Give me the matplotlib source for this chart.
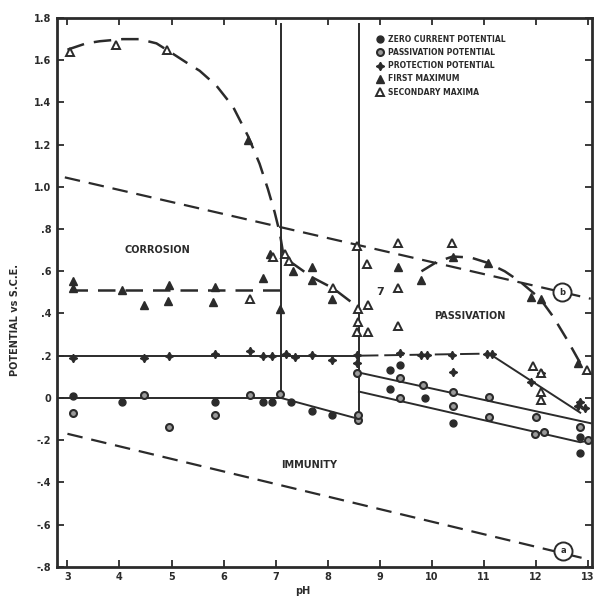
import matplotlib
matplotlib.use("Agg")
import matplotlib.pyplot as plt

# --- data (pH, potential V vs S.C.E.) ---
zero_ph = [3.1, 4.04, 5.83, 6.75, 6.92, 7.3, 7.7, 8.08, 9.2, 9.38, 9.2, 9.86, 10.4, 12.85, 12.85]
zero_e = [0.01, -0.02, -0.02, -0.02, -0.02, -0.02, -0.06, -0.08, 0.13, 0.155, 0.04, 0.0, -0.12, -0.26, -0.185]

pass_ph = [3.1, 4.48, 4.96, 5.83, 6.5, 7.08, 8.58, 8.58, 9.38, 9.83, 10.4, 11.1, 12.0,
           9.38, 10.4, 11.1, 11.98, 12.15, 12.85, 13.0, 8.56]
pass_e = [-0.07, 0.015, -0.14, -0.08, 0.015, 0.02, -0.105, -0.08, 0.095, 0.06, 0.03, 0.005, -0.09,
          0.0, -0.04, -0.09, -0.17, -0.16, -0.14, -0.2, 0.12]

prot_ph = [3.1, 4.48, 4.96, 5.83, 6.5, 6.75, 6.92, 7.2, 7.37, 7.7, 8.08, 8.56, 8.56, 9.38,
           9.8, 9.9, 10.38, 11.05, 11.15, 10.4, 11.9, 12.8, 12.95, 12.85, 12.1]
prot_e = [0.19, 0.19, 0.2, 0.21, 0.22, 0.2, 0.2, 0.21, 0.195, 0.205, 0.18, 0.205, 0.165, 0.215,
          0.205, 0.205, 0.205, 0.21, 0.21, 0.125, 0.075, -0.04, -0.05, -0.02, 0.12]

first_ph = [3.1, 3.1, 4.04, 4.48, 4.96, 4.93, 5.83, 5.79, 6.75, 6.9, 7.08, 7.33, 7.7, 7.7,
            8.08, 9.35, 9.8, 10.4, 11.07, 11.9, 12.1, 12.8, 6.46]
first_e = [0.555, 0.52, 0.51, 0.44, 0.535, 0.46, 0.525, 0.455, 0.57, 0.68, 0.42, 0.60, 0.62, 0.56,
           0.47, 0.62, 0.56, 0.67, 0.64, 0.48, 0.47, 0.165, 1.22]

second_ph = [3.05, 3.94, 4.92, 6.5, 6.95, 7.17, 7.25, 8.1, 8.56, 8.75, 9.35, 10.38, 9.35, 8.77,
             8.58, 8.58, 8.56, 8.77, 9.35, 12.98, 11.95, 12.1, 12.1, 12.1]
second_e = [1.64, 1.67, 1.65, 0.47, 0.67, 0.68, 0.65, 0.52, 0.72, 0.635, 0.735, 0.735, 0.52, 0.44,
            0.42, 0.36, 0.31, 0.31, 0.34, 0.13, 0.15, 0.12, 0.03, -0.01]

# hand-drawn dashed curves
upper_curve_ph = [3.0, 3.36, 3.62, 4.06, 4.38, 4.71, 5.03, 5.28, 5.54, 5.86, 6.18, 6.47, 6.69,
                  6.85, 6.98, 7.08, 7.14, 7.31, 7.71, 8.1, 8.58]
upper_curve_e = [1.65, 1.68, 1.69, 1.70, 1.70, 1.68, 1.63, 1.59, 1.55, 1.48, 1.38, 1.24, 1.11,
                 0.99, 0.88, 0.78, 0.69, 0.64, 0.57, 0.52, 0.43]
right_curve_ph = [9.8, 10.1, 10.4, 10.75, 11.07, 11.4, 11.7, 12.08, 12.33, 12.6, 12.85, 13.0]
right_curve_e = [0.60, 0.645, 0.67, 0.665, 0.64, 0.60, 0.55, 0.47, 0.385, 0.275, 0.165, 0.12]
first_max_ph = [3.05, 7.1]
first_max_e = [0.51, 0.51]
line_b_ph = [2.95, 13.05]
line_b_e = [1.045, 0.47]
line_a_ph = [3.0, 13.0]
line_a_e = [-0.17, -0.765]

# solid boundary lines
prot_left_ph = [2.8, 8.6]
prot_left_e = [0.2, 0.2]
prot_mid_ph = [8.6, 11.1]
prot_mid_e = [0.2, 0.21]
prot_right_ph = [11.1, 12.85]
prot_right_e = [0.21, -0.07]
zero_left_ph = [2.8, 7.1]
zero_left_e = [0.0, 0.0]
zero_mid_ph = [7.1, 8.6]
zero_mid_e = [0.0, -0.10]
pass_up_ph = [8.6, 13.05]
pass_up_e = [0.12, -0.12]
pass_low_ph = [8.6, 12.85, 13.05]
pass_low_e = [0.03, -0.21, -0.20]
vert1_ph = [7.1, 7.1]
vert1_e = [1.77, 0.0]
vert2_ph = [8.6, 8.6]
vert2_e = [1.77, -0.10]

xticks = list(range(3, 14))
yticks = [1.8, 1.6, 1.4, 1.2, 1.0, 0.8, 0.6, 0.4, 0.2, 0.0, -0.2, -0.4, -0.6, -0.8]
ytick_labels = ["1.8", "1.6", "1.4", "1.2", "1.0", ".8", ".6", ".4", ".2", "0",
                "-.2", "-.4", "-.6", "-.8"]

ink = "#2b2b2b"
plt.rcParams['font.family'] = ['DejaVu Sans']

fig = plt.figure(figsize=(5.94, 6.01), dpi=100)
ax = fig.add_axes([0.096, 0.057, 0.901, 0.913])

dash = (0, (7, 4))
ax.plot(upper_curve_ph, upper_curve_e, color=ink, lw=1.8, ls=dash)
ax.plot(right_curve_ph, right_curve_e, color=ink, lw=1.8, ls=dash)
ax.plot(first_max_ph, first_max_e, color=ink, lw=1.8, ls=dash)
ax.plot(line_b_ph, line_b_e, color=ink, lw=1.6, ls=dash)
ax.plot(line_a_ph, line_a_e, color=ink, lw=1.6, ls=dash)

for xs, ys in [(prot_left_ph, prot_left_e), (prot_right_ph, prot_right_e),
               (zero_left_ph, zero_left_e), (zero_mid_ph, zero_mid_e),
               (pass_up_ph, pass_up_e), (pass_low_ph, pass_low_e),
               (vert1_ph, vert1_e), (vert2_ph, vert2_e)]:
    ax.plot(xs, ys, color=ink, lw=1.4)
ax.plot(prot_mid_ph, prot_mid_e, color=ink, lw=1.4, ls=(0, (10, 3)))

# markers
ax.plot(zero_ph, zero_e, ls="none", marker="o", ms=5, color=ink, label="ZERO CURRENT POTENTIAL")
ax.plot(pass_ph, pass_e, ls="none", marker="o", ms=5, mfc="#9a9a9a", mec=ink, mew=1.5,
        label="PASSIVATION POTENTIAL")
ax.plot(prot_ph, prot_e, ls="none", marker=(4, 1, 0), ms=6, color=ink, label="PROTECTION POTENTIAL")
ax.plot(first_ph, first_e, ls="none", marker="^", ms=5.5, color=ink, label="FIRST MAXIMUM")
ax.plot(second_ph, second_e, ls="none", marker="^", ms=5.5, mfc="white", mec=ink, mew=1.4,
        label="SECONDARY MAXIMA")

# circled line labels
ax.plot([12.5], [0.50], ls="none", marker="o", ms=13, mfc="white", mec=ink, mew=1.4)
ax.text(12.5, 0.50, "b", ha="center", va="center", fontsize=6, fontweight="bold", color=ink)
ax.plot([12.52], [-0.725], ls="none", marker="o", ms=13, mfc="white", mec=ink, mew=1.4)
ax.text(12.52, -0.725, "a", ha="center", va="center", fontsize=6, fontweight="bold", color=ink)

# region labels
ax.text(4.73, 0.70, "CORROSION", ha="center", va="center", fontsize=7, fontweight="bold", color=ink)
ax.text(10.73, 0.39, "PASSIVATION", ha="center", va="center", fontsize=7, fontweight="bold", color=ink)
ax.text(7.65, -0.32, "IMMUNITY", ha="center", va="center", fontsize=7, fontweight="bold", color=ink)
ax.text(9.0, 0.50, "7", ha="center", va="center", fontsize=8, fontweight="bold", color=ink)

leg = ax.legend(loc="upper left", bbox_to_anchor=(0.59, 0.975), frameon=False,
                fontsize=5.5, handlelength=1.0, handletextpad=0.6, labelspacing=0.55,
                borderaxespad=0)
for t in leg.get_texts():
    t.set_fontweight("bold")
    t.set_color(ink)

ax.set_xlim(2.8, 13.08)
ax.set_ylim(-0.8, 1.8)
ax.set_xticks(xticks)
ax.set_yticks(yticks)
ax.set_yticklabels(ytick_labels)
ax.tick_params(direction="in", top=True, right=True, length=5, width=1.3, colors=ink,
               labelsize=7, pad=4)
for lab in ax.get_xticklabels() + ax.get_yticklabels():
    lab.set_fontweight("bold")
for s in ax.spines.values():
    s.set_linewidth(2)
    s.set_color(ink)

ax.set_xlabel("pH", fontsize=7, fontweight="bold", color=ink, labelpad=3)
ax.xaxis.set_label_coords(0.46, -0.035)
ax.set_ylabel("POTENTIAL vs S.C.E.", fontsize=7, fontweight="bold", color=ink)
ax.yaxis.set_label_coords(-0.07, 0.45)

fig.savefig("out.png", dpi=100)
